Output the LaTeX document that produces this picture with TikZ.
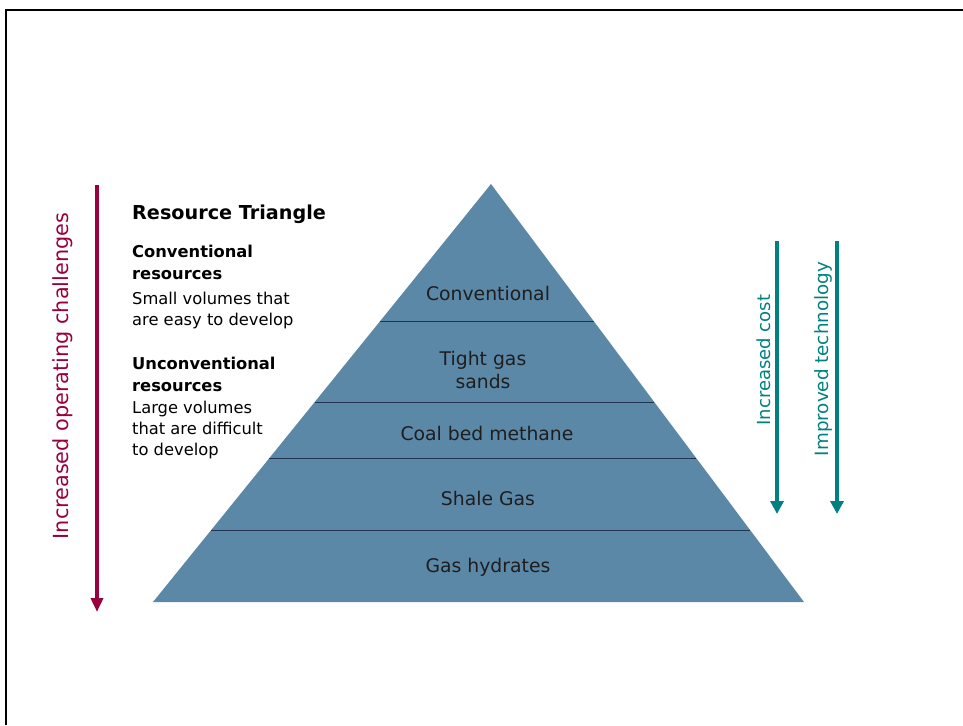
\documentclass[tikz,border=0pt]{standalone}
\usepackage{fontspec}
\setmainfont{DejaVu Sans}
\usetikzlibrary{arrows.meta,calc}
\pgfdeclarelayer{bg}
\pgfsetlayers{bg,main}
\definecolor{pyramidblue}{RGB}{92,136,168}
\definecolor{seamblue}{RGB}{32,52,82}
\definecolor{challengered}{RGB}{153,0,61}
\definecolor{costteal}{RGB}{0,128,128}
\definecolor{labelgrey}{RGB}{30,30,30}
\tikzset{every picture/.append style={x=1pt, y=-1pt}}
\tikzset{
    layer/.style={draw=seamblue, line width=1pt},
    layername/.style={text=labelgrey, align=center,
    	font={\fontsize{18.8}{23}\selectfont}},
    heading/.style={anchor=base west, align=left, inner sep=0pt,
    	font={\fontsize{16.3}{22}\selectfont\bfseries}},
    bodytext/.style={anchor=base west, align=left, inner sep=0pt,
    	font={\fontsize{16.3}{21}\selectfont}},
    trendarrow/.style={line width=4pt, -{Triangle[width=13pt,length=13pt]}},
    trendlabel/.style={rotate=90, inner sep=0pt,
    	font={\fontsize{18}{22}\selectfont}}
}

\begin{document}
\begin{tikzpicture}
  \useasboundingbox (0,0) rectangle (963,725);
  \draw[line width=2.5pt] (6,725) -- (6,10) -- (963,10);

  \coordinate (top) at (491,184);
  \coordinate (bl) at (153,602);
  \coordinate (br) at (804,602);

  \begin{pgfonlayer}{bg}
	  \fill[pyramidblue] (top) -- (bl) -- (br) -- cycle;
  \end{pgfonlayer}
  \foreach \t in {.328,.522,.656,.828}
	  \draw[layer] ($(top)!\t!(bl)$) -- ($(top)!\t!(br)$);

  \node (conv) [layername] at (488,293) {Conventional};
  \node (tight) [layername] at (483,370) {Tight gas\\sands};
  \node (coal) [layername] at (487,433) {Coal bed methane};
  \node (shale) [layername] at (488,498) {Shale Gas};
  \node (hydr) [layername] at (488,567) {Gas hydrates};

  % text block on the left (base = last line)
  \node (title) [heading, font={\fontsize{19.2}{22}\selectfont\bfseries}]
	  at (132,219) {Resource Triangle};
  \node (convhead) [heading] at (132,279) {Conventional\\resources};
  \node (convbody) [bodytext] at (132,325) {Small volumes that\\are easy to develop};
  \node (unconvhead) [heading] at (132,391) {Unconventional\\resources};
  \node (unconvbody) [bodytext] at (132,455) {Large volumes\\that are difficult\\to develop};

  % arrows
  \coordinate (chal a) at (97,185);
  \coordinate (chal b) at (97,612);
  \draw[trendarrow, challengered, line width=3.5pt,
	  -{Triangle[width=12pt,length=14pt]}] (chal a) -- (chal b);
  \node (chal) [trendlabel, challengered, font={\fontsize{20.8}{24}\selectfont}]
	  at (63,376) {Increased operating challenges};

  \coordinate (cost a) at (777,241);
  \coordinate (cost b) at (777,514);
  \draw[trendarrow, costteal] (cost a) -- (cost b);
  \node (cost) [trendlabel, costteal] at (764,360) {Increased cost};

  \coordinate (tech a) at (837,241);
  \coordinate (tech b) at (837,514);
  \draw[trendarrow, costteal] (tech a) -- (tech b);
  \node (tech) [trendlabel, costteal, font={\fontsize{18.3}{22}\selectfont}]
	  at (823,359) {Improved technology};
\end{tikzpicture}
\end{document}
